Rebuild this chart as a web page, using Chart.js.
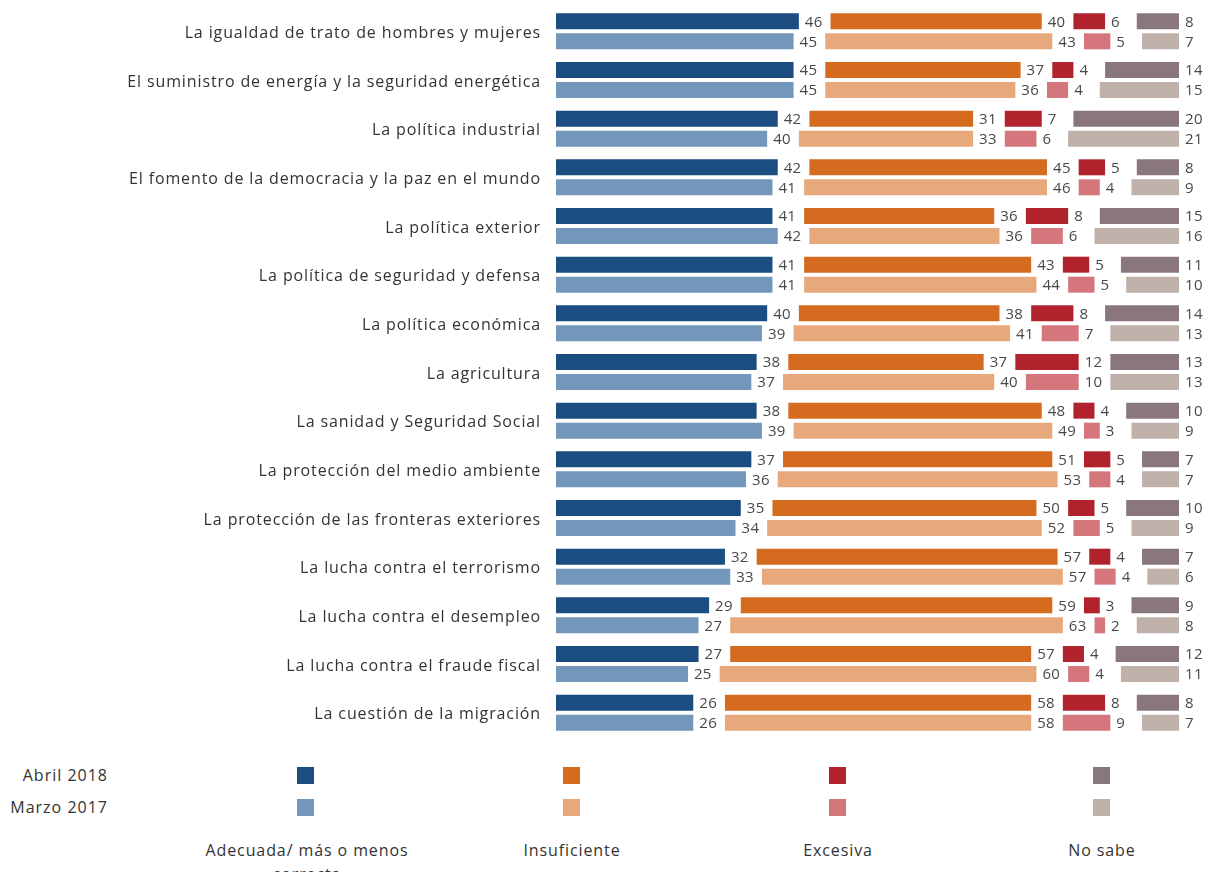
<!DOCTYPE html>
<html><head><meta charset="utf-8">
<script src="https://cdn.jsdelivr.net/npm/chart.js@4.4.1/dist/chart.umd.min.js"></script>
<style>
html,body{margin:0;padding:0;background:#fff;}
body{width:1208px;height:872px;overflow:hidden;position:relative;font-family:"Open Sans",sans-serif;color:#333;}
#wrap{position:absolute;left:0;top:0;width:1208px;height:745px;}
.yr{position:absolute;width:108px;left:0;text-align:right;font-size:16px;line-height:20px;letter-spacing:1px;}
.sq{position:absolute;width:17px;height:17px;}
.cap{position:absolute;width:260px;text-align:center;font-size:16px;line-height:24px;letter-spacing:0.9px;}
</style></head><body>
<div id="wrap"><canvas id="c"></canvas></div>
<div id="legend"></div>
<script>
const categories = [
  "La igualdad de trato de hombres y mujeres",
  "El suministro de energía y la seguridad energética",
  "La política industrial",
  "El fomento de la democracia y la paz en el mundo",
  "La política exterior",
  "La política de seguridad y defensa",
  "La política económica",
  "La agricultura",
  "La sanidad y Seguridad Social",
  "La protección del medio ambiente",
  "La protección de las fronteras exteriores",
  "La lucha contra el terrorismo",
  "La lucha contra el desempleo",
  "La lucha contra el fraude fiscal",
  "La cuestión de la migración"
];
const periods = ["Abril 2018", "Marzo 2017"];
const answers = ["Adecuada/ más o menos correcta", "Insuficiente", "Excesiva", "No sabe"];

const adecuada2018     = [46,45,42,42,41,41,40,38,38,37,35,32,29,27,26];
const adecuada2017     = [45,45,40,41,42,41,39,37,39,36,34,33,27,25,26];
const insuficiente2018 = [40,37,31,45,36,43,38,37,48,51,50,57,59,57,58];
const insuficiente2017 = [43,36,33,46,36,44,41,40,49,53,52,57,63,60,58];
const excesiva2018     = [6,4,7,5,8,5,8,12,4,5,5,4,3,4,8];
const excesiva2017     = [5,4,6,4,6,5,7,10,3,4,5,4,2,4,9];
const noSabe2018       = [8,14,20,8,15,11,14,13,10,7,10,7,9,12,8];
const noSabe2017       = [7,15,21,9,16,10,13,13,9,7,9,6,8,11,7];

// layout constants (in value units)
const GAP = 6;
const AXIS_MAX = 118;

const colors2018 = ["#1b4d80", "#d46b1f", "#b0232d", "#8a777e"];
const colors2017 = ["#7396bb", "#e7a87c", "#d5767c", "#bfb0aa"];

function buildStack(stack, series, cols) {
  const [a, i, e, n] = series;
  const gapMid = a.map(() => GAP);
  const gapEnd = a.map((_, k) => AXIS_MAX - a[k] - i[k] - e[k] - n[k] - 2 * GAP);
  const mk = (data, color, gap) => ({
    data, stack, backgroundColor: gap ? 'rgba(0,0,0,0)' : color,
    isGap: gap, borderWidth: 0
  });
  return [
    mk(a, cols[0], false), mk(gapMid, null, true),
    mk(i, cols[1], false), mk(gapMid, null, true),
    mk(e, cols[2], false), mk(gapEnd, null, true),
    mk(n, cols[3], false)
  ];
}

const datasets = [
  ...buildStack("2018", [adecuada2018, insuficiente2018, excesiva2018, noSabe2018], colors2018),
  ...buildStack("2017", [adecuada2017, insuficiente2017, excesiva2017, noSabe2017], colors2017)
];

const spacing = {
  id: 'spacing',
  beforeDraw(chart) { chart.ctx.letterSpacing = '0.88px'; }
};

const valueLabels = {
  id: 'valueLabels',
  afterDatasetsDraw(chart) {
    const ctx = chart.ctx;
    ctx.save();
    ctx.letterSpacing = '0.3px';
    ctx.font = '15px "Open Sans", sans-serif';
    ctx.fillStyle = '#484848';
    ctx.textAlign = 'left';
    ctx.textBaseline = 'middle';
    chart.data.datasets.forEach((ds, di) => {
      if (ds.isGap) return;
      const meta = chart.getDatasetMeta(di);
      meta.data.forEach((el, idx) => {
        ctx.fillText(String(ds.data[idx]), el.x + 6, el.y + 1);
      });
    });
    ctx.restore();
  }
};

new Chart(document.getElementById('c'), {
  type: 'bar',
  data: { labels: categories, datasets },
  options: {
    indexAxis: 'y',
    responsive: true,
    maintainAspectRatio: false,
    animation: false,
    categoryPercentage: 0.8217,
    barPercentage: 0.8,
    layout: { padding: { top: 7, bottom: 8, left: 0, right: 29 } },
    plugins: { legend: { display: false }, tooltip: { enabled: false } },
    scales: {
      x: {
        stacked: true, min: 0, max: AXIS_MAX, display: false
      },
      y: {
        stacked: true,
        grid: { display: false, drawTicks: false },
        border: { display: false },
        ticks: {
          padding: 15,
          labelOffset: 2,
          color: '#333',
          font: { family: '"Open Sans", sans-serif', size: 16 }
        },
        afterFit(scale) {
          scale.width = 556;
          scale.paddingTop = 0;
          scale.paddingBottom = 0;
        }
      }
    }
  },
  plugins: [spacing, valueLabels]
});

// HTML legend
const lg = document.getElementById('legend');
const colX = [297, 563, 829, 1093];
const rowY = [767, 799];
periods.forEach((p, r) => {
  const d = document.createElement('div');
  d.className = 'yr'; d.textContent = p; d.style.top = (rowY[r] - 2) + 'px';
  lg.appendChild(d);
});
answers.forEach((a, c) => {
  [colors2018, colors2017].forEach((cols, r) => {
    const s = document.createElement('div');
    s.className = 'sq'; s.style.left = colX[c] + 'px'; s.style.top = rowY[r] + 'px';
    s.style.background = cols[c];
    lg.appendChild(s);
  });
  const t = document.createElement('div');
  t.className = 'cap'; t.textContent = a;
  t.style.left = (colX[c] + 9 - 130) + 'px'; t.style.top = '838px';
  if (c === 0) { t.style.width = '230px'; t.style.left = (colX[c] + 10 - 115) + 'px'; }
  lg.appendChild(t);
});
</script>
</body></html>
